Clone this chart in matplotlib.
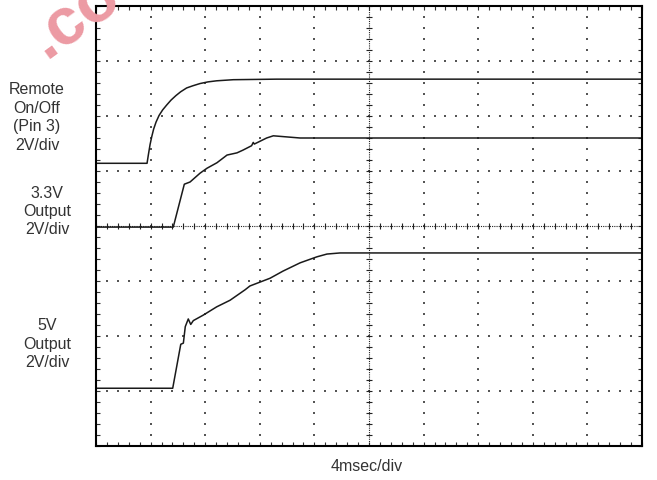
import matplotlib
matplotlib.use("Agg")
import matplotlib.pyplot as plt
import numpy as np

plt.rcParams['font.family'] = ['Liberation Sans', 'DejaVu Sans']

# time in msec (4 msec/div), level in divisions (2V/div)
remote_t = [0, 3.74, 3.84, 3.96, 4.08, 4.22, 4.40, 4.62, 4.88, 5.18, 5.50, 5.85, 6.20,
            6.64, 7.10, 7.62, 8.20, 8.84, 10.06, 13.24, 40]
remote_v = [5.14, 5.14, 5.30, 5.48, 5.62, 5.76, 5.89, 6.01, 6.11, 6.20, 6.29, 6.37, 6.44,
            6.51, 6.55, 6.59, 6.62, 6.64, 6.66, 6.67, 6.67]

out33_t = [0, 5.66, 6.47, 6.89, 7.62, 8.13, 8.86, 9.60, 10.33, 10.77, 11.40, 11.52, 11.60,
           12.50, 12.99, 13.97, 14.95, 40]
out33_v = [3.98, 3.98, 4.76, 4.80, 4.96, 5.05, 5.15, 5.29, 5.33, 5.38, 5.46, 5.52, 5.49,
           5.60, 5.64, 5.62, 5.60, 5.60]

out5_t = [0, 5.62, 6.21, 6.40, 6.54, 6.76, 6.94, 7.13, 7.86, 8.84, 9.82, 10.92, 11.28,
          12.75, 13.70, 14.95, 16.19, 16.92, 17.88, 40]
out5_v = [1.05, 1.05, 1.85, 1.87, 2.17, 2.31, 2.21, 2.28, 2.38, 2.53, 2.65, 2.84, 2.91,
          3.05, 3.18, 3.33, 3.44, 3.49, 3.51, 3.51]

labels = ["Remote\nOn/Off\n(Pin 3)\n2V/div", "3.3V\nOutput\n2V/div", "5V\nOutput\n2V/div"]
label_pos = [(37, 117.5), (47, 211.5), (47, 344)]  # pixel centres
xlabel = "4msec/div"

W, H = 657, 480
fig = plt.figure(figsize=(W / 100, H / 100), dpi=100)
ax = fig.add_axes([96 / W, 1 - 446 / H, 546 / W, 440 / H])

# watermark (cut by the top edge, as in the source)
fig.text(46 / W, 1 - 60 / H, ".co", fontsize=48, fontweight='bold', color='#ec9aa3',
         rotation=36, rotation_mode='anchor', ha='left', va='baseline', zorder=0)

ax.set_xlim(0, 40)
ax.set_ylim(0, 8)
ax.set_xticks(np.arange(0, 40.1, 4))
ax.set_xticks(np.arange(0, 40.1, 0.8), minor=True)
ax.set_yticks(np.arange(0, 8.1, 1))
ax.set_yticks(np.arange(0, 8.01, 0.2), minor=True)
ax.tick_params(which='both', direction='in', top=True, right=True, length=3, width=0.8,
               color='#333333', labelbottom=False, labelleft=False)
for s in ax.spines.values():
    s.set_linewidth(1.5)
ax.patch.set_alpha(0)

xminor = np.arange(0, 40.1, 0.8)
yminor = np.arange(0, 8.01, 0.2)

# dotted graticule
for gx in [4, 8, 12, 16, 24, 28, 32, 36]:
    ax.scatter(np.full(len(yminor), gx), yminor, s=1.1, marker='s', color='#555555', linewidths=0)
for gy in [1, 2, 3, 5, 6, 7]:
    ax.scatter(xminor, np.full(len(xminor), gy), s=1.1, marker='s', color='#555555', linewidths=0)

# centre cross with ticks
ax.axvline(20, ls=(0, (1, 1)), lw=0.8, color='#222222')
ax.axhline(4, ls=(0, (1, 1)), lw=0.8, color='#222222')
ax.plot(np.full(len(yminor), 20), yminor, ls='none', marker='_', ms=5, mew=0.8, color='#222222')
ax.plot(xminor, np.full(len(xminor), 4), ls='none', marker='|', ms=5, mew=0.8, color='#222222')

for t, v in [(remote_t, remote_v), (out33_t, out33_v), (out5_t, out5_v)]:
    ax.plot(t, v, color='#1a1a1a', lw=1.1, solid_joinstyle='round')

for txt, (px, py) in zip(labels, label_pos):
    fig.text(px / W, 1 - py / H, txt, ha='center', va='center', fontsize=11.5,
             color='#333333', linespacing=1.28)
fig.text(366.7 / W, 1 - 466.7 / H, xlabel, ha='center', va='center', fontsize=11.5, color='#333333')

fig.savefig("out.png", dpi=100)
